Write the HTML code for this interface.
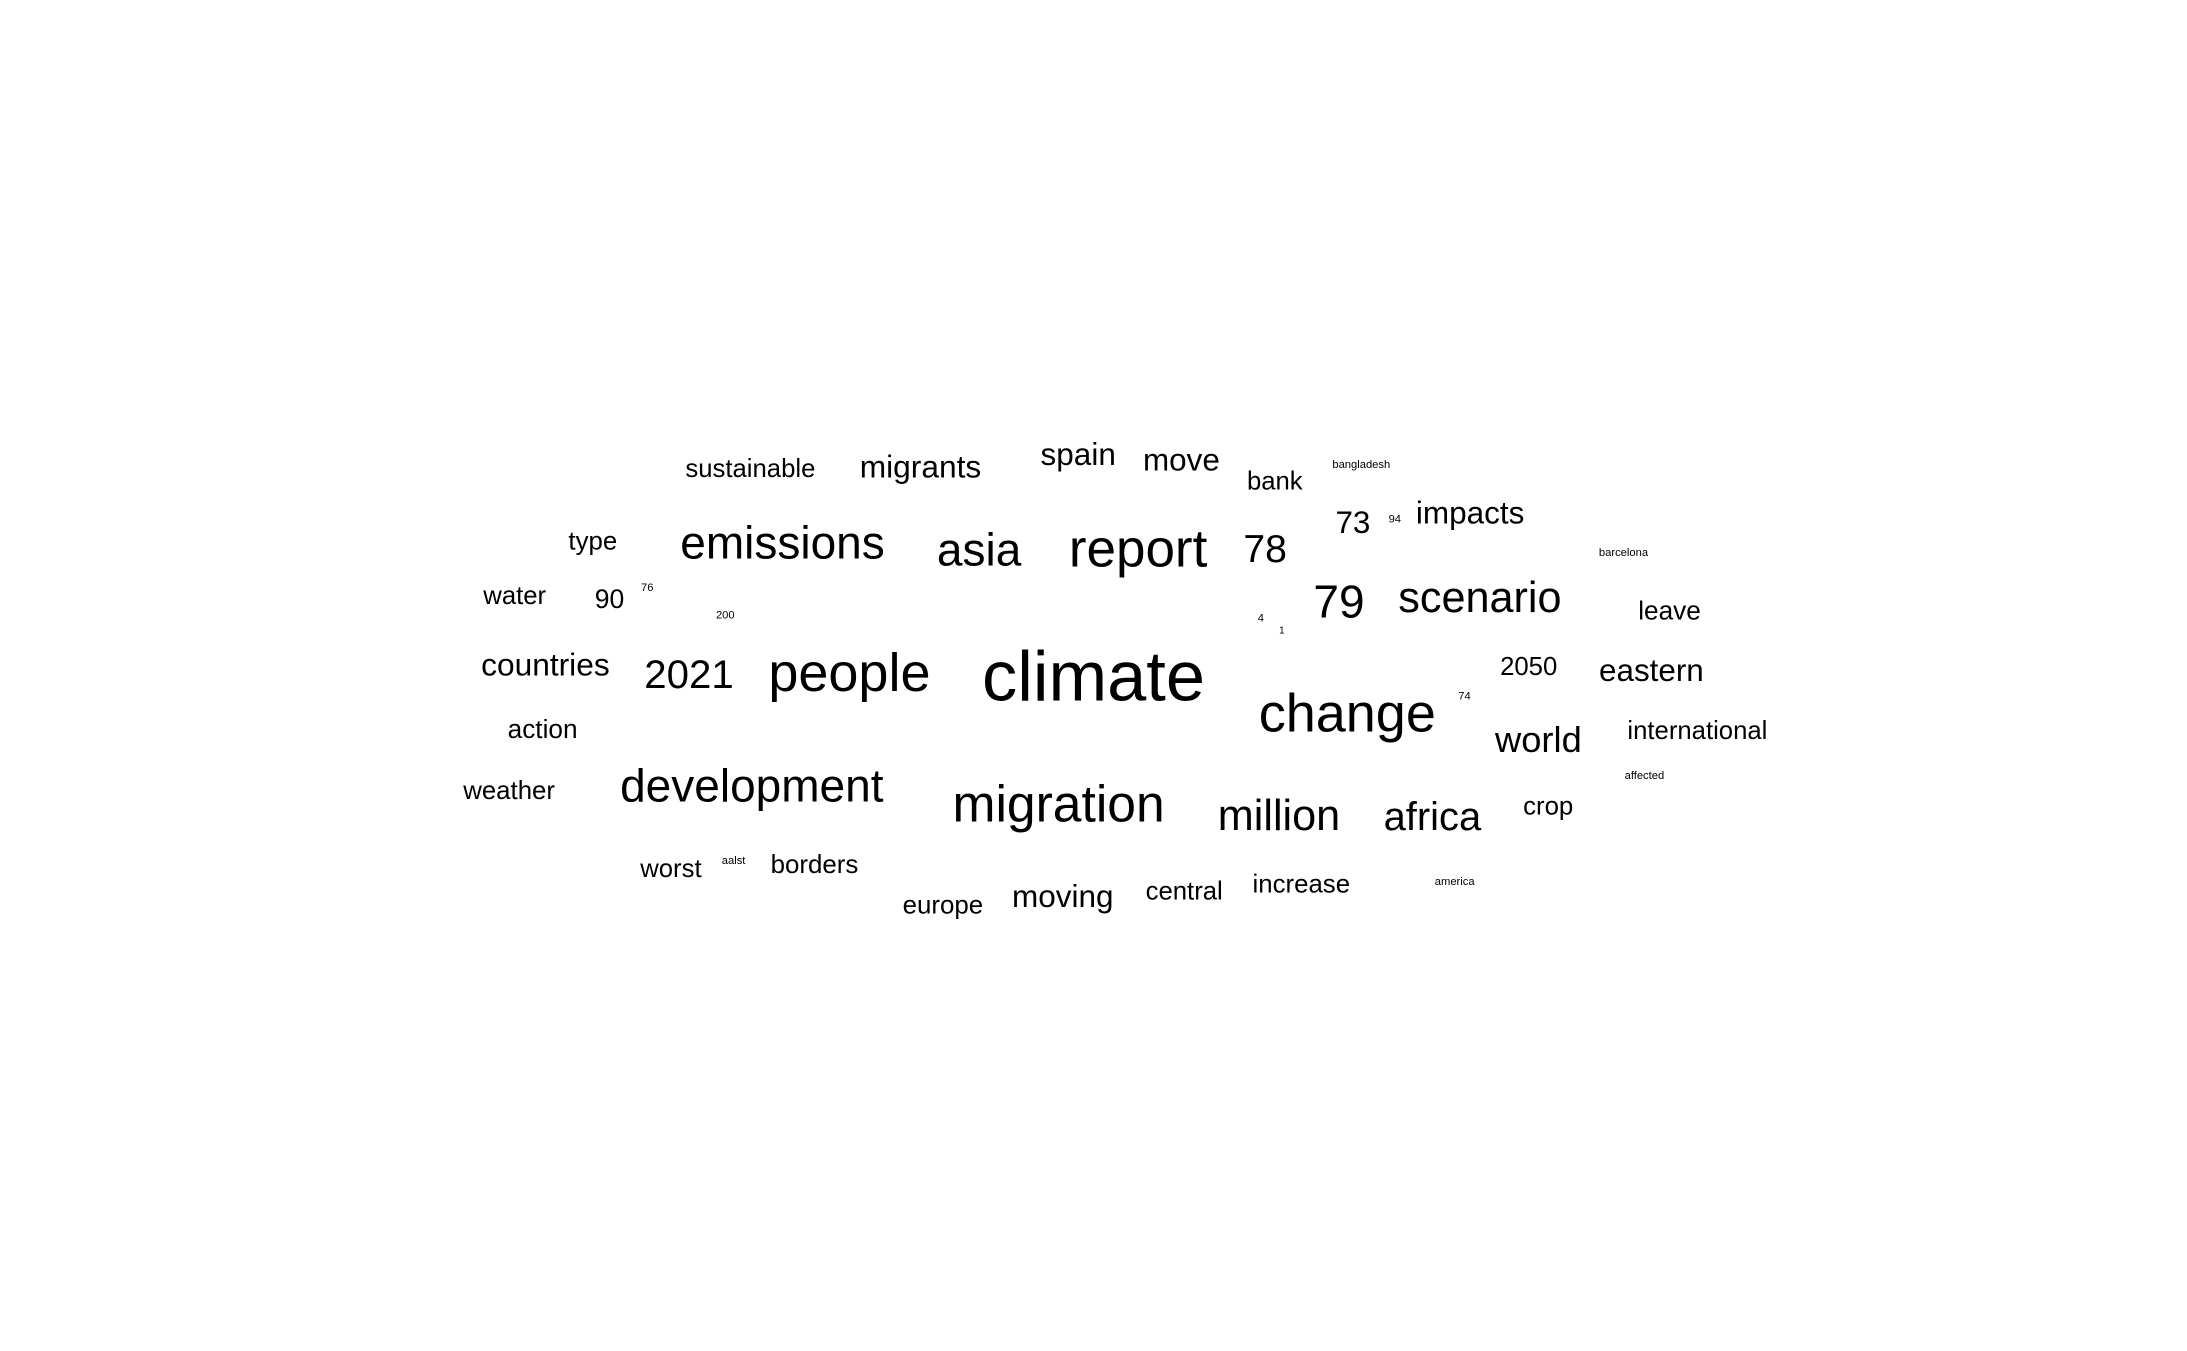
<!DOCTYPE html>
<html><head><meta charset="utf-8">
<style>
html,body{margin:0;padding:0;background:#fff;}
svg{display:block;}
text{font-family:"Liberation Sans",Arial,sans-serif;fill:#000;}
</style></head>
<body>
<svg id="cloud" width="2187" height="1351" viewBox="0 0 2187 1351"></svg>
<script>
const words = ["climate","change","migration","report","people","development","emissions","asia","scenario","79","million","africa","2021","78","73","world","impacts","migrants","move","spain","moving","eastern","countries","90","2050","sustainable","type","water","bank","leave","international","action","weather","crop","worst","borders","europe","central","increase","bangladesh","94","barcelona","76","200","4","1","74","affected","aalst","america"];
const sizes = [50.5,38.7,37,38,38.7,33,33,33,31,33,31,28.6,28.8,28,22.5,26,22.6,22.7,22.5,22.6,22.6,22.5,22.7,19,18.4,18.4,18.5,18.4,18.4,18.8,18.4,18.8,18.5,18.5,18.4,18.6,18.6,18.4,18.5,8,8,8,8,8,8,7,8,8,8,8];
const cx = [784,966,759,816,609,539,561,702,1061,960,917,1027,494,907,970,1103,1054,660,847,773,762,1184,391,437,1096,538,425,369,914,1197,1217,389,365,1110,481,584,676,849,933,976,1000,1164,464,520,904,919,1050,1179,526,1043];
const cy = [486,512,577,394,483,564,390,395,429,432,585,586,484,394,375,531,368,335,330,326,643,481,477,430,478,336,388,427,345,438,524,523,567,578,623,620,649,639,634,333,372,396,421,441,443,452,499,556,617,632];
const S = 2187/1568;
const svg = document.getElementById('cloud');
const NS = 'http://www.w3.org/2000/svg';
for (let i = 0; i < words.length; i++) {
  const t = document.createElementNS(NS, 'text');
  const fs = sizes[i] * S;
  t.setAttribute('x', (cx[i] * S).toFixed(1));
  t.setAttribute('y', (cy[i] * S + fs * 0.32).toFixed(1));
  t.setAttribute('font-size', fs.toFixed(1));
  t.setAttribute('text-anchor', 'middle');
  t.textContent = words[i];
  
  
  svg.appendChild(t);
}
</script>
</body></html>
